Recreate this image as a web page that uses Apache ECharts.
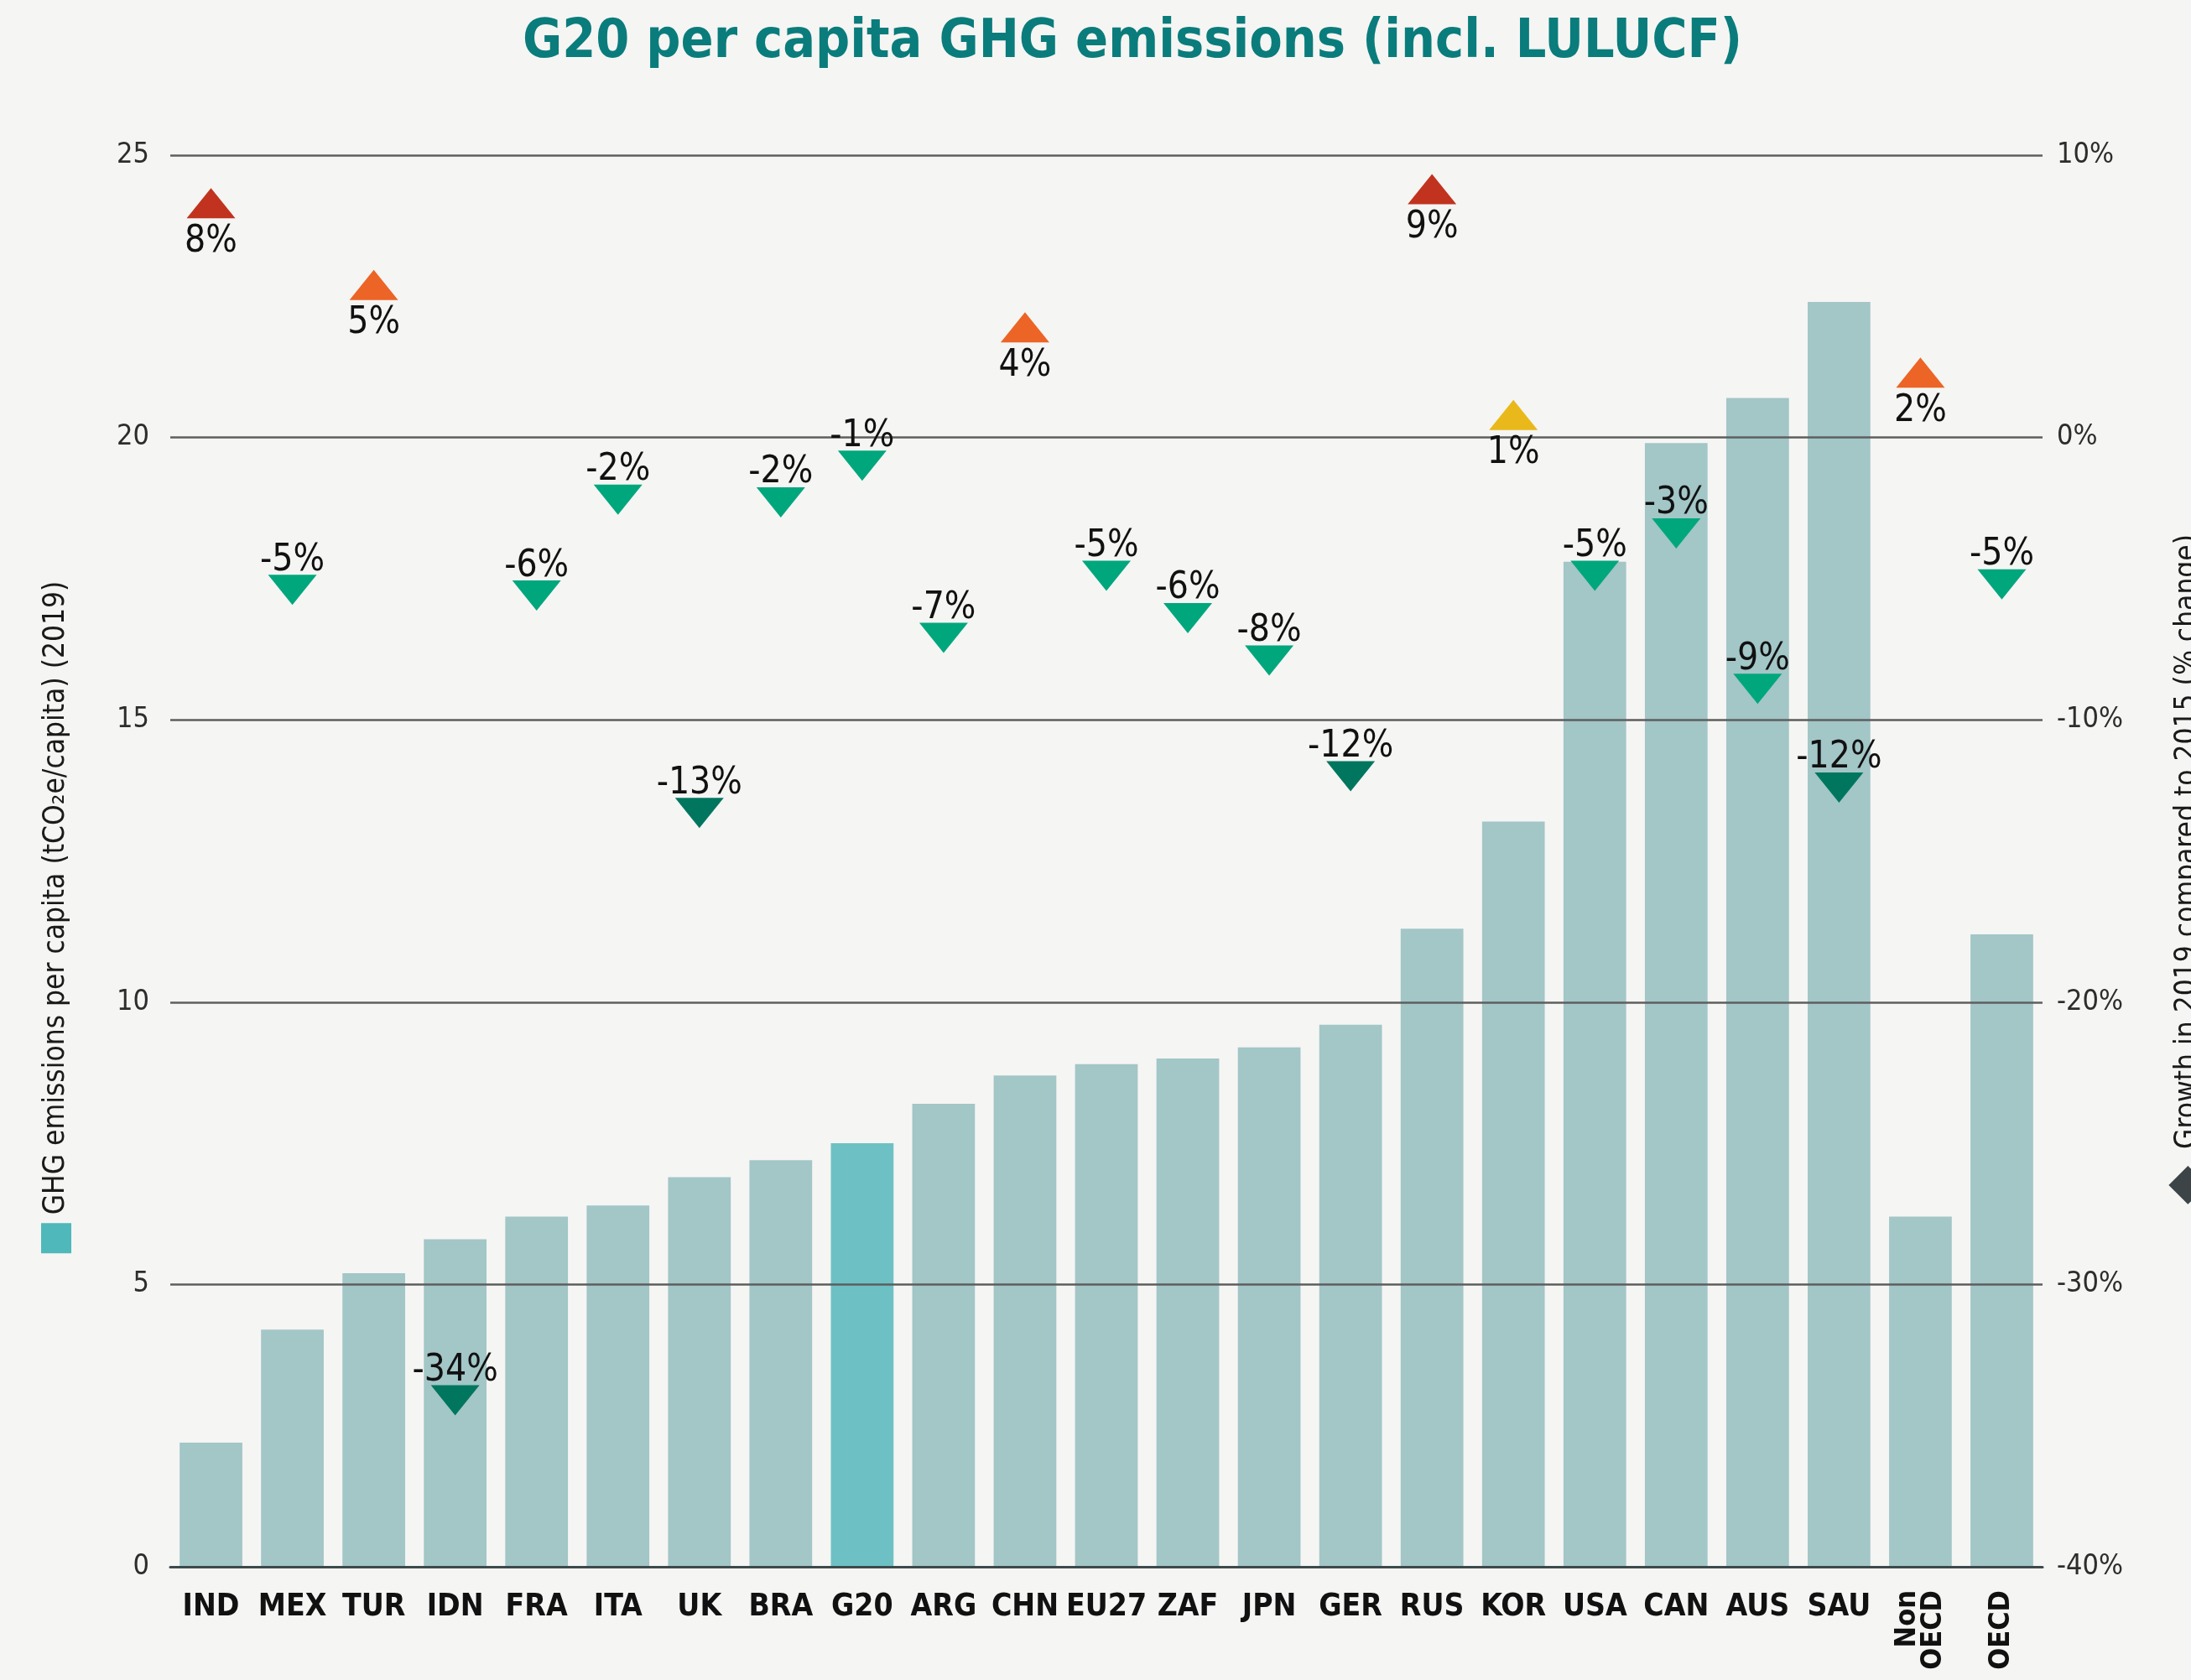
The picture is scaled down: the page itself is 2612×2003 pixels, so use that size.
<!DOCTYPE html>
<html><head><meta charset="utf-8">
<script src="https://cdn.jsdelivr.net/npm/echarts@6/dist/echarts.min.js"></script>
<style>html,body{margin:0;padding:0;background:#f5f5f3}#c{width:2612px;height:2003px}</style>
</head><body><div id="c"></div>
<script>
const categories = ['IND','MEX','TUR','IDN','FRA','ITA','UK','BRA','G20','ARG','CHN','EU27','ZAF','JPN','GER','RUS','KOR','USA','CAN','AUS','SAU','Non\nOECD','OECD'];
const emissions = [2.2,4.2,5.2,5.8,6.2,6.4,6.9,7.2,7.5,8.2,8.7,8.9,9.0,9.2,9.6,11.3,13.2,17.8,19.9,20.7,22.4,6.2,11.2];
const growth = [8.3,-5.4,5.4,-34.1,-5.6,-2.2,-13.3,-2.3,-1.0,-7.1,3.9,-4.9,-6.4,-7.9,-12.0,8.8,0.8,-4.9,-3.4,-8.9,-12.4,2.3,-5.2];
const leftAxisRange = {min:0, max:25, interval:5};
const rightAxisRange = {min:-40, max:10, interval:10};
const titleText = 'G20 per capita GHG emissions (incl. LULUCF)';
const leftName = 'GHG emissions per capita (tCO₂e/capita) (2019)';
const rightName = 'Growth in 2019 compared to 2015 (% change)';

const NARROW = "'Liberation Sans Narrow','DejaVu Sans Condensed','Roboto',sans-serif";
function growthColor(g){
  const r = Math.round(g);
  if (r >= 8) return '#c1331e';
  if (r >= 2) return '#ec6426';
  if (r >= 0) return '#e9b91b';
  if (r >= -10) return '#00a77d';
  return '#00765f';
}
const chart = echarts.init(document.getElementById('c'), null, {renderer:'canvas'});
const option = {
  backgroundColor:'#f5f5f3',
  animation:false,
  title:{text:titleText, left:1345, top:14, textAlign:'center',
    textStyle:{fontFamily:NARROW, fontWeight:'bold', fontSize:64, color:'#0a7c7c'}},
  grid:{left:203, right:177, top:185, bottom:135, containLabel:false, outerBoundsMode:'none'},
  xAxis:[{
    type:'category', data:categories, z:3,
    axisLine:{show:true, lineStyle:{color:'#3c4a4c', width:3}},
    axisTick:{show:false},
    axisLabel:{interval:0, margin:30, fontFamily:NARROW, fontWeight:'bold', fontSize:37, color:'#111',
      formatter:v => v.indexOf('OECD')>=0 ? '' : v}
  },{
    type:'category', data:categories, position:'bottom',
    axisLine:{show:false}, axisTick:{show:false},
    axisLabel:{interval:0, rotate:90, margin:28, fontFamily:NARROW, fontWeight:'bold', fontSize:34, lineHeight:31, color:'#111',
      formatter:v => v.indexOf('OECD')>=0 ? v : ''}
  }],
  yAxis:[{
    type:'value', min:leftAxisRange.min, max:leftAxisRange.max, interval:leftAxisRange.interval, z:3,
    axisLine:{show:false}, axisTick:{show:false},
    splitLine:{show:true, lineStyle:{color:'#5e5e5e', width:2.5}},
    axisLabel:{margin:25, fontFamily:NARROW, fontSize:34, color:'#2d2d2d'},
    name:'{sq| } ' + leftName, nameLocation:'middle', nameRotate:90, nameGap:118,
    nameTextStyle:{fontFamily:NARROW, fontSize:35, color:'#1a1a1a', padding:[0,134,0,0],
      rich:{sq:{width:36, height:36, backgroundColor:'#4fb8bb'}}}
  },{
    type:'value', min:rightAxisRange.min, max:rightAxisRange.max, interval:rightAxisRange.interval,
    axisLine:{show:false}, axisTick:{show:false}, splitLine:{show:false},
    axisLabel:{margin:17, fontFamily:NARROW, fontSize:34, color:'#2d2d2d', formatter:'{value}%'},
    name:'{dm|◆}  ' + rightName, nameLocation:'middle', nameRotate:90, nameGap:143,
    nameTextStyle:{fontFamily:NARROW, fontSize:35, color:'#1a1a1a', padding:[0,20,0,0],
      rich:{dm:{fontSize:60, color:'#3c4447', fontFamily:'DejaVu Sans'}}}
  }],
  series:[{
    type:'bar', xAxisIndex:0, yAxisIndex:0, barWidth:'77%', z:2,
    data:emissions.map((v,i)=>({value:v, itemStyle:{color: categories[i]==='G20' ? '#6dc1c4' : '#a3c6c7'}}))
  },{
    type:'scatter', xAxisIndex:0, yAxisIndex:1, symbol:'triangle', symbolSize:[58,36], z:5,
    itemStyle:{opacity:1},
    label:{show:true, fontFamily:NARROW, fontSize:44, color:'#111', formatter:p => Math.round(p.value[1]) + '%'},
    data:growth.map((g,i)=>({value:[i,g], symbolRotate: g>=0 ? 0 : 180,
      itemStyle:{color:growthColor(g), opacity:1},
      label:{position: g>=0 ? 'bottom' : 'top', distance: g>=0 ? 6 : 0, offset: g>=0 ? [0,0] : [0,5]}}))
  }]
};
chart.setOption(option);
</script></body></html>
